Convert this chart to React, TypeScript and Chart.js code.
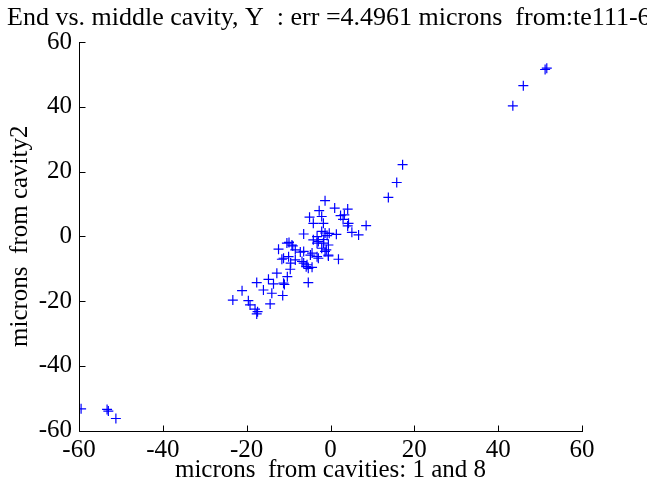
import React, { useEffect, useRef } from 'react';
import { Chart, registerables } from 'chart.js';

Chart.register(...registerables);

const xValues: number[] = [
  -59.5, -53.3, -53.0, -51.2,
  51.2, 51.6, 46.0, 43.5, 17.2, 15.8, 13.8, 8.5,
  -1.3, 1.0, 4.1, -2.7, 3.3, 2.4, -5.0, -2.1, 3.0, -4.1, -1.7, 4.3, 4.1, 5.1, 6.7,
  -6.4, -2.1, -1.3, 1.4, -0.8, -4.1, -2.9, -1.7, -0.5, -3.2, -3.2, -2.1, -1.3, -1.0,
  -0.5, -0.5, 1.9, -2.9, -3.2, -4.8, -4.4, -6.4, -7.2, -8.4, -9.2, -9.0, -10.4, -9.9,
  -12.4, -11.2, -10.0, -11.6, -8.4, -6.8, -5.6, -4.4, -5.3, -5.8, -6.4, -9.5, -9.6,
  -12.8, -10.3, -14.8, -17.6, -11.2, -11.0, -13.6, -5.3, -16.0, -21.1, -14.0, -11.4,
  -23.3, -19.6, -14.4, -19.2, -18.0, -17.6, -17.4, -0.3, -1.6,
];

const yValues: number[] = [
  -53.3, -53.5, -54.0, -56.3,
  51.5, 51.9, 46.5, 40.3, 22.1, 16.6, 12.0, 3.3,
  11.0, 8.7, 8.4, 7.9, 6.6, 6.4, 5.9, 6.1, 5.2, 4.0, 4.0, 4.0, 3.2, 1.2, 0.4,
  0.7, 1.5, 1.0, 0.6, 0.2, -1.1, -1.6, -2.1, -2.7, -2.1, -0.1, -3.7, -4.7, -4.2,
  -5.8, -6.1, -7.1, -6.8, -6.3, -5.8, -5.2, -4.7, -4.9, -4.2, -2.7, -3.0, -2.1, -1.9,
  -4.0, -6.8, -6.3, -7.1, -7.3, -7.8, -8.8, -9.6, -9.9, -9.4, -8.3, -8.3, -10.2,
  -11.4, -12.5, -13.3, -14.3, -14.5, -14.9, -14.7, -14.3, -16.6, -16.8, -17.6, -18.3,
  -19.7, -19.9, -20.9, -21.2, -22.5, -24.0, -23.3, 0.9, -1.0,
];

const xTicks: number[] = [-60, -40, -20, 0, 20, 40, 60];
const yTicks: number[] = [-60, -40, -20, 0, 20, 40, 60];

const titleText = 'End vs. middle cavity, Y  : err =4.4961 microns  from:te111-6';
const xLabel = 'microns  from cavities: 1 and 8';
const yLabel = 'microns  from cavity2';

const FONT_FAMILY = '"Liberation Serif", "Times New Roman", serif';

const matlabAxes = {
  id: 'matlabAxes',
  afterDraw(chart: any) {
    const { ctx, chartArea, scales } = chart;
    const { left, right, top, bottom } = chartArea;
    ctx.save();
    ctx.strokeStyle = '#000';
    ctx.lineWidth = 1;
    ctx.beginPath();
    const bx = Math.round(left) + 0.5;
    const by = Math.round(bottom) + 0.5;
    ctx.moveTo(bx, Math.round(top));
    ctx.lineTo(bx, by);
    ctx.lineTo(Math.round(right) + 1, by);
    xTicks.forEach((v) => {
      const px = Math.round(scales.x.getPixelForValue(v)) + 0.5;
      ctx.moveTo(px, by);
      ctx.lineTo(px, by - 6);
    });
    yTicks.forEach((v) => {
      const py = Math.round(scales.y.getPixelForValue(v)) + 0.5;
      ctx.moveTo(bx, py);
      ctx.lineTo(bx + 6, py);
    });
    ctx.stroke();
    ctx.fillStyle = '#000';
    ctx.font = `26px ${FONT_FAMILY}`;
    ctx.textAlign = 'left';
    ctx.textBaseline = 'alphabetic';
    ctx.fillText(titleText, 7, 25);
    ctx.restore();
  },
};

export default function App() {
  const canvasRef = useRef<HTMLCanvasElement | null>(null);

  useEffect(() => {
    document.body.style.margin = '0';
    const canvas = canvasRef.current;
    if (!canvas) return;
    const points = xValues.map((x, i) => ({ x, y: yValues[i] }));
    const chart = new Chart(canvas, {
      type: 'scatter',
      data: {
        datasets: [
          {
            data: points,
            pointStyle: 'cross',
            pointRadius: 5,
            pointHoverRadius: 5,
            borderColor: '#0000ff',
            backgroundColor: '#0000ff',
            borderWidth: 1.2,
          },
        ],
      },
      options: {
        animation: false,
        responsive: false,
        devicePixelRatio: 1,
        layout: { padding: { left: 0, top: 42, right: 65, bottom: 0 } },
        plugins: {
          legend: { display: false },
          tooltip: { enabled: false },
          title: { display: false },
        },
        scales: {
          x: {
            type: 'linear',
            min: -60,
            max: 60,
            afterBuildTicks: (scale: any) => {
              scale.ticks = xTicks.map((v) => ({ value: v }));
            },
            afterFit: (scale: any) => {
              scale.height = 56.5;
            },
            grid: { display: false, drawTicks: false },
            border: { display: false },
            ticks: {
              color: '#000',
              padding: 5,
              maxRotation: 0,
              font: { family: FONT_FAMILY, size: 25 },
            },
            title: {
              display: true,
              text: xLabel,
              color: '#000',
              font: { family: FONT_FAMILY, size: 25 },
              padding: { top: 0, bottom: 2 },
            },
          },
          y: {
            type: 'linear',
            min: -60,
            max: 60,
            afterBuildTicks: (scale: any) => {
              scale.ticks = yTicks.map((v) => ({ value: v }));
            },
            afterFit: (scale: any) => {
              scale.width = 79;
            },
            grid: { display: false, drawTicks: false },
            border: { display: false },
            ticks: {
              color: '#000',
              padding: 7,
              font: { family: FONT_FAMILY, size: 25 },
            },
            title: {
              display: true,
              text: yLabel,
              color: '#000',
              font: { family: FONT_FAMILY, size: 25 },
              padding: { top: 5, bottom: 0 },
            },
          },
        },
      },
      plugins: [matlabAxes],
    });
    return () => chart.destroy();
  }, []);

  return (
    <div style={{ width: 647, height: 487, background: '#fff' }}>
      <canvas ref={canvasRef} width={647} height={487} />
    </div>
  );
}
